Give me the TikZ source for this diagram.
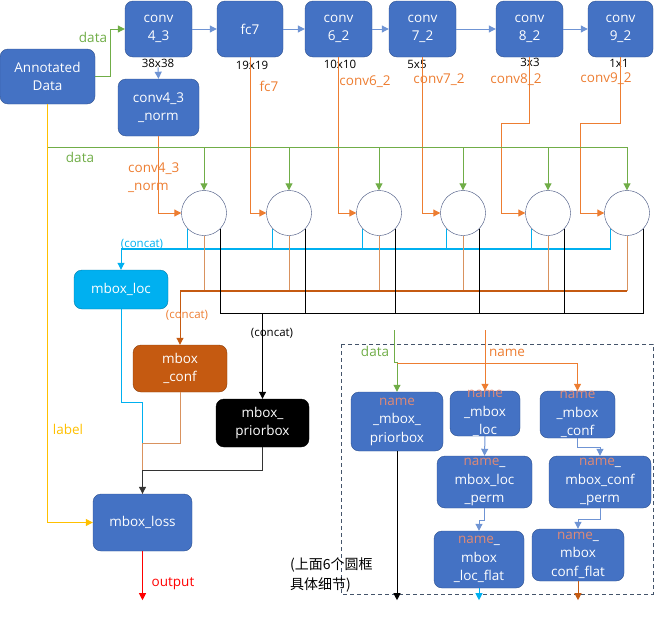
\documentclass[tikz,border=0pt]{standalone}
\usepackage{fontspec}
\setmainfont{Open Sans}
\newfontfamily\cjk{Noto Sans CJK SC}
\usetikzlibrary{arrows.meta,calc}

\definecolor{boxblue}{HTML}{4472C4}
\definecolor{boxedge}{HTML}{2F528F}
\definecolor{cyanc}{HTML}{00B0F0}
\definecolor{rust}{HTML}{C55A11}
\definecolor{rustlt}{HTML}{D9925E}
\definecolor{orng}{HTML}{ED7D31}
\definecolor{grn}{HTML}{70AD47}
\definecolor{ylw}{HTML}{FFC000}
\definecolor{nmc}{HTML}{E08A76}
\definecolor{topline}{HTML}{6F94D4}
\definecolor{ringc}{HTML}{3A4A78}
\definecolor{dashc}{HTML}{44546A}

\newcommand{\nm}{{\color{nmc}name}}

\tikzset{
  box/.style={draw=boxedge, fill=boxblue, rounded corners=8pt, text=white, align=center,
    font=\fontsize{13.5}{18}\selectfont, inner sep=0pt},
  nbox/.style={box, label={[btxt]center:#1}},
  btxt/.style={text=white, align=center, font=\fontsize{13.5}{18.5}\selectfont, inner sep=0pt},
  ring/.style={circle, draw=ringc, fill=white, minimum size=45, inner sep=0pt},
  lbl/.style={font=\fontsize{13.5}{18}\selectfont, inner sep=0pt},
  small/.style={font=\fontsize{11.5}{13}\selectfont, inner sep=0pt},
  gline/.style={draw=grn, line width=1pt},
  oline/.style={draw=orng, line width=1pt},
  cline/.style={draw=cyanc, line width=1pt},
  rline/.style={draw=rustlt, line width=1pt},
  kline/.style={draw=black, line width=1pt},
  bline/.style={draw=topline, line width=1pt},
}

\begin{document}
\begin{tikzpicture}[x=1pt, y=-1pt, >={Triangle[length=7pt,width=7pt]}]
        \useasboundingbox (0,0) rectangle (654,624);

        % top chain
        \node[box, minimum width=95, minimum height=55] (data) at (47.5,76.5) {Annotated\\Data};
        \node[box, minimum width=67, minimum height=56] (c43) at (158.5,29) {conv\\4\_3};
        \node[box, minimum width=66, minimum height=56] (fc7) at (250,29) {fc7};
        \node[box, minimum width=67, minimum height=56] (c62) at (338.5,29) {conv\\6\_2};
        \node[box, minimum width=67, minimum height=56] (c72) at (422.5,29) {conv\\7\_2};
        \node[box, minimum width=67, minimum height=56] (c82) at (529.5,29) {conv\\8\_2};
        \node[box, minimum width=65, minimum height=56] (c92) at (620.5,29) {conv\\9\_2};
        \node[box, minimum width=81, minimum height=57] (norm) at (158.5,107.5) {conv4\_3\\\_norm};

        \node[small] (s38) at (158,63) {38x38};
        \node[small] (s19) at (252,65) {19x19};
        \node[small] (s10) at (340,64) {10x10};
        \node[small] (s5) at (417,64) {5x5};
        \node[small] (s3) at (530,62) {3x3};
        \node[small] (s1) at (619,63) {1x1};

        \draw[bline,->] (c43) -- (fc7);
        \draw[bline,->] (fc7) -- (c62);
        \draw[bline,->] (c62) -- (c72);
        \draw[bline,->] (c72) -- (c82);
        \draw[bline,->] (c82) -- (c92);
        \draw[bline,->] (s38.south) -- (norm.north);
        \draw[gline,->] (data.east) -- ++(15,0) |- (c43.west);
        \node[lbl, text=grn] (ldata) at (93,37) {data};

        % the six heads
        \foreach \i/\x in {1/204,2/289,3/379,4/463,5/548,6/627}
            \node[ring] (k\i) at (\x,213) {};

        \draw[oline,->] (norm.south) |- (k1.west);
        \draw[oline,->] (fc7.south) |- (k2.west);
        \draw[oline,->] (c62.south) |- (k3.west);
        \draw[oline,->] (c72.south) |- (k4.west);
        \draw[oline,->] (c82.south) |- ++(-28,66) |- (k5.west);
        \draw[oline,->] (c92.south) |- ++(-40,66) |- (k6.west);
        \node[lbl, text=orng, align=left, anchor=west] (lnorm) at (128,178) {conv4\_3\\\_norm};
        \node[lbl, text=orng] (lfc7) at (269,86) {fc7};
        \node[lbl, text=orng] (l62) at (365,82) {conv6\_2};
        \node[lbl, text=orng] (l72) at (439,80) {conv7\_2};
        \node[lbl, text=orng] (l82) at (516,80) {conv8\_2};
        \node[lbl, text=orng] (l92) at (606,79) {conv9\_2};

        % data to every head
        \coordinate (dj) at (47.5,147);
        \draw[gline] (dj) -- (k6.north |- dj);
        \foreach \i in {1,...,6}
            \draw[gline,->] (k\i.north |- dj) -- (k\i.north);
        \node[lbl, text=grn] (ldata2) at (80,157) {data};

        % merged outputs
        \node[box, fill=cyanc, draw=cyanc!70!black, minimum width=94, minimum height=39] (mloc) at (121,289.5) {mbox\_loc};
        \node[box, fill=rust, draw=rust!70!black, minimum width=94, minimum height=47] (mconf) at (180,368.5) {mbox\\\_conf};
        \node[box, fill=black, draw=black, minimum width=93, minimum height=48] (mprior) at (262.5,423) {mbox\_\\priorbox};
        \node[box, minimum width=99, minimum height=57] (mloss) at (142.5,522.5) {mbox\_loss};

        \path (mloc.north) ++(0,-21) coordinate (cj);
        \path (mconf.north) ++(0,-54) coordinate (oj);
        \path (mprior.north) ++(0,-85) coordinate (bj);

        \foreach \i in {1,...,6}
            \draw[cline] (k\i.south west) -- (k\i.south west |- cj);
        \draw[cline, line width=1.4pt] (cj) -- (k6.south west |- cj);
        \draw[cline,->] (cj) -- (mloc.north);
        \node[small, text=cyanc] (lcc) at (142,244) {(concat)};

        \foreach \i in {1,...,6}
            \draw[rline] (k\i.south) -- (k\i.south |- oj);
        \draw[draw=rust, line width=1.4pt] (oj) -- (k6.south |- oj);
        \draw[draw=rust, line width=1pt,->] (oj) -- (mconf.north);
        \node[small, text=orng] (loc) at (187,315) {(concat)};

        \foreach \i in {1,...,6}
            \draw[kline] (k\i.south east) -- (k\i.south east |- bj);
        \draw[kline, line width=1.2pt] (k1.south east |- bj) -- (k6.south east |- bj);
        \draw[kline,->] (bj) -- (mprior.north);
        \node[small] (lbc) at (272,333) {(concat)};

        % into the loss
        \draw[cline] (mloc.south) -- ++(0,93) -| (mloss.north);
        \draw[draw=rustlt, line width=1pt] (mconf.south) -- ++(0,51) -| (mloss.north);
        \draw[draw=black!80, line width=1pt,->] (mprior.south) -- ++(0,23) -| (mloss.north);
        \draw[draw=ylw, line width=1pt,->] (data.south) |- (mloss.west);
        \node[lbl, text=ylw] (llabel) at (68,429) {label};
        \draw[draw=red, line width=1pt,->] (mloss.south) -- ++(0,49) coordinate (out);
        \node[lbl, text=red] (lout) at (173,584) {output};

        % detail of one head
        \draw[dashc, dashed, dash pattern=on 4pt off 3pt] (341,344) rectangle (653,594);
        \node[lbl, align=left, anchor=north west, font=\cjk\fontsize{14}{20}\selectfont] (note) at (290,558) {(上面6个圆框\\具体细节)};

        \node[nbox={\nm\\\_mbox\_\\priorbox}, minimum width=92, minimum height=59] (nprior) at (397,421.5) {};
        \node[nbox={\nm\\\_mbox\\\_loc}, minimum width=70, minimum height=45] (nloc) at (485,413.5) {};
        \node[nbox={\nm\\\_mbox\\\_conf}, minimum width=75, minimum height=47] (nconf) at (577.5,414.5) {};
        \node[nbox={\nm\_\\mbox\_loc\\\_perm}, minimum width=95, minimum height=52] (nlocp) at (484.5,482) {};
        \node[nbox={\nm\_\\mbox\_conf\\\_perm}, minimum width=102, minimum height=52] (nconfp) at (600,482) {};
        \node[nbox={\nm\_\\mbox\\\_loc\_flat}, minimum width=90, minimum height=57] (nlocf) at (479,559.5) {};
        \node[nbox={\nm\_\\mbox\\conf\_flat}, minimum width=92, minimum height=52] (nconff) at (578,555) {};

        \coordinate (gin) at (394,330);
        \coordinate (nin) at (485,330);
        \coordinate (nh) at (485,363);
        \draw[gline,->] (gin) -- ++(0,32) -| (nprior.north);
        \draw[oline,->] (nin) -- (nloc.north);
        \draw[oline,->] (nprior.north |- nh) -| (nconf.north);
        \node[lbl, text=grn] (ldata3) at (375,351) {data};
        \node[lbl, text=orng] (lname) at (507,353) {name};

        \draw[bline,->] (nloc.south) -- (nlocp.north);
        \draw[bline,->] (nconf.south) -- ++(0,9) -| (nconfp.north);
        \draw[bline,->] (nlocp.south) -- ++(0,12) -| (nlocf.north);
        \draw[bline,->] (nconfp.south) -- ++(0,11) -| (nconff.north);

        \draw[kline,->] (nprior.south) -- (nprior.south |- out) coordinate (o1);
        \draw[cline,->] (nlocf.south) -- (nlocf.south |- o1);
        \draw[draw=rust, line width=1pt,->] (nconff.south) -- (nconff.south |- o1);
\end{tikzpicture}
\end{document}
